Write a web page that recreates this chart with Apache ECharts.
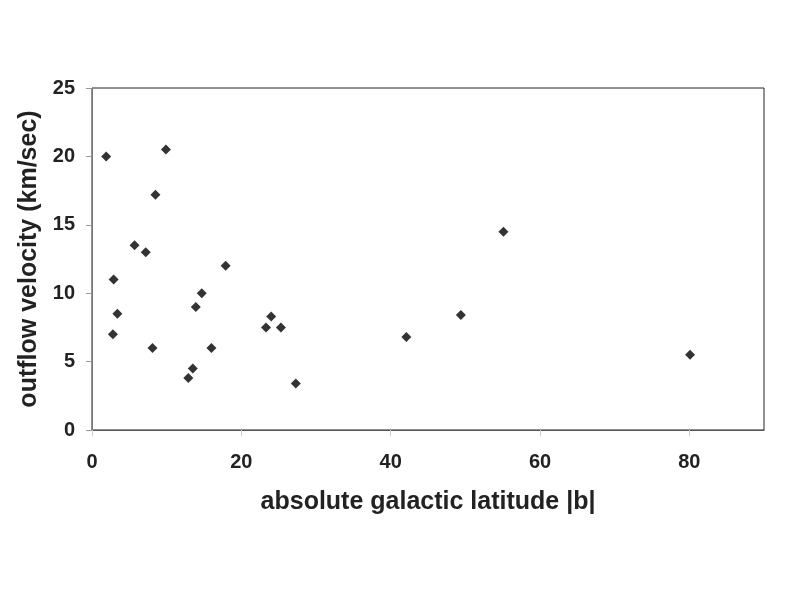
<!DOCTYPE html>
<html lang="en">
<head>
    <meta charset="UTF-8">
    <title>outflow velocity vs galactic latitude</title>
    <script src="https://cdn.jsdelivr.net/npm/echarts@6/dist/echarts.min.js"></script>
    <style>
        html, body { margin: 0; padding: 0; background: #fff; }
        #chart { width: 793px; height: 595px; }
    </style>
</head>
<body>
<div id="chart"></div>
<script>
    // |b| in degrees
    const latitude = [1.9, 9.9, 8.5, 5.7, 7.2, 17.9, 2.9, 3.4, 2.8, 8.1, 14.7, 13.9, 16.0, 13.5, 12.9,
        23.3, 24.0, 25.3, 27.3, 42.1, 49.4, 55.1, 80.1];
    // km/sec
    const velocity = [20.0, 20.5, 17.2, 13.5, 13.0, 12.0, 11.0, 8.5, 7.0, 6.0, 10.0, 9.0, 6.0, 4.5, 3.8,
        7.5, 8.3, 7.5, 3.4, 6.8, 8.4, 14.5, 5.5];
    const xTicks = [0, 20, 40, 60, 80];
    const yTicks = [0, 5, 10, 15, 20, 25];

    const points = latitude.map((x, i) => [x, velocity[i]]);

    const myChart = echarts.init(document.getElementById("chart"));
    const font = 'Liberation Sans, Arial, sans-serif';

    const option = {
        backgroundColor: '#fff',
        animation: false,
        grid: {
            left: 92, right: 29, top: 88, bottom: 165,
            show: true,
            borderColor: '#222',
            borderWidth: 1
        },
        xAxis: {
            type: 'value',
            min: 0,
            max: 90,
            interval: 20,
            name: 'absolute galactic latitude |b|',
            nameLocation: 'middle',
            nameGap: 60,
            nameTextStyle: { fontFamily: font, fontWeight: 'bold', fontSize: 25, color: '#222' },
            axisLine: { show: true, lineStyle: { color: '#555', width: 1 } },
            axisTick: { show: true, length: 6, customValues: xTicks, lineStyle: { color: '#ccc' } },
            axisLabel: {
                fontFamily: font, fontWeight: 'bold', fontSize: 20, color: '#222', margin: 22,
                customValues: xTicks
            },
            splitLine: { show: false }
        },
        yAxis: {
            type: 'value',
            min: 0,
            max: 25,
            interval: 5,
            name: 'outflow velocity (km/sec)',
            nameLocation: 'middle',
            nameGap: 48,
            nameTextStyle: { fontFamily: font, fontWeight: 'bold', fontSize: 25, color: '#222' },
            axisLine: { show: true, lineStyle: { color: '#777', width: 1 } },
            axisTick: { show: true, length: 6, customValues: yTicks, lineStyle: { color: '#999' } },
            axisLabel: {
                fontFamily: font, fontWeight: 'bold', fontSize: 20, color: '#222', margin: 17,
                customValues: yTicks
            },
            splitLine: { show: false }
        },
        series: [
            {
                type: 'scatter',
                symbol: 'diamond',
                symbolSize: 10,
                itemStyle: { color: '#000' },
                data: points
            }
        ]
    };

    myChart.setOption(option);
</script>
</body>
</html>
